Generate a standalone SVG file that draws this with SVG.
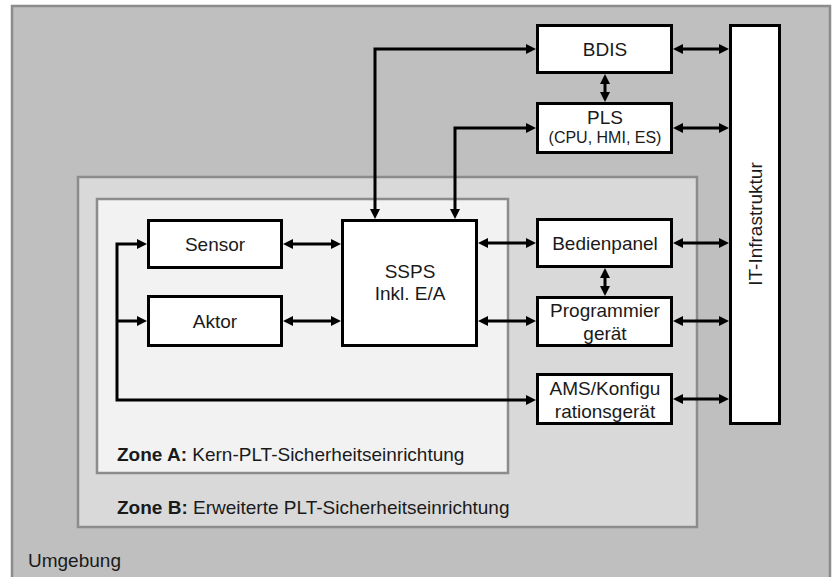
<svg xmlns="http://www.w3.org/2000/svg" width="835" height="577" viewBox="0 0 835 577">
<style>
text{font-family:"Liberation Sans",Arial,sans-serif;font-size:19px;fill:#1a1a1a}
.c{text-anchor:middle}
.s{font-size:16px}
.b{font-weight:bold}
.box{fill:#fff;stroke:#000;stroke-width:3}
.zone{stroke:#8c8c8c;stroke-width:2.5}
.con{fill:none;stroke:#000;stroke-width:3}
</style>
<defs>
<marker id="ah" viewBox="0 0 10 10" markerWidth="10" markerHeight="10" refX="3" refY="5" orient="auto-start-reverse" markerUnits="userSpaceOnUse">
<path d="M0,0 L10,5 L0,10 z" fill="#000"/>
</marker>
</defs>
<rect width="835" height="577" fill="#fff"/>
<g id="umgebung">
<rect class="zone" x="12" y="6" width="818" height="580" fill="#bfbfbf"/>
<text x="28" y="567">Umgebung</text>
</g>
<g id="zoneB">
<rect class="zone" x="78" y="177" width="619" height="350" fill="#d9d9d9"/>
<text x="117" y="514"><tspan class="b">Zone B:</tspan> Erweiterte PLT-Sicherheitseinrichtung</text>
</g>
<g id="zoneA">
<rect class="zone" x="97" y="199" width="411" height="274" fill="#f2f2f2"/>
<text x="117" y="461"><tspan class="b">Zone A:</tspan> Kern-PLT-Sicherheitseinrichtung</text>
</g>
<g id="connectors">
<path class="con" d="M375,212 V49 H529" marker-start="url(#ah)" marker-end="url(#ah)"/>
<path class="con" d="M455,212 V128 H529" marker-start="url(#ah)" marker-end="url(#ah)"/>
<path class="con" d="M605,81 V95" marker-start="url(#ah)" marker-end="url(#ah)"/>
<path class="con" d="M680,49 H722" marker-start="url(#ah)" marker-end="url(#ah)"/>
<path class="con" d="M680,128 H722" marker-start="url(#ah)" marker-end="url(#ah)"/>
<path class="con" d="M680,243 H722" marker-start="url(#ah)" marker-end="url(#ah)"/>
<path class="con" d="M680,321 H722" marker-start="url(#ah)" marker-end="url(#ah)"/>
<path class="con" d="M680,399 H722" marker-start="url(#ah)" marker-end="url(#ah)"/>
<path class="con" d="M605,275 V289" marker-start="url(#ah)" marker-end="url(#ah)"/>
<path class="con" d="M485,243 H529" marker-start="url(#ah)" marker-end="url(#ah)"/>
<path class="con" d="M485,321 H529" marker-start="url(#ah)" marker-end="url(#ah)"/>
<path class="con" d="M290,244 H334" marker-start="url(#ah)" marker-end="url(#ah)"/>
<path class="con" d="M290,321 H334" marker-start="url(#ah)" marker-end="url(#ah)"/>
<path class="con" d="M140,244 H117 V400 H529" marker-start="url(#ah)" marker-end="url(#ah)"/>
<path class="con" d="M117,321 H140" marker-end="url(#ah)"/>
</g>
<g id="sensor">
<rect class="box" x="148.5" y="220.5" width="133" height="47"/>
<text class="c" x="215" y="251">Sensor</text>
</g>
<g id="aktor">
<rect class="box" x="148.5" y="296.5" width="133" height="49"/>
<text class="c" x="215" y="328">Aktor</text>
</g>
<g id="ssps">
<rect class="box" x="342.5" y="220.5" width="134" height="125"/>
<text class="c" x="410" y="278">SSPS</text>
<text class="c" x="410" y="300">Inkl. E/A</text>
</g>
<g id="bdis">
<rect class="box" x="537.5" y="25.5" width="134" height="47"/>
<text class="c" x="605" y="56">BDIS</text>
</g>
<g id="pls">
<rect class="box" x="537.5" y="103.5" width="134" height="49"/>
<text class="c" x="605" y="124">PLS</text>
<text class="c s" x="605" y="143">(CPU, HMI, ES)</text>
</g>
<g id="bedienpanel">
<rect class="box" x="537.5" y="219.5" width="134" height="47"/>
<text class="c" x="605" y="250">Bedienpanel</text>
</g>
<g id="programmiergeraet">
<rect class="box" x="537.5" y="297.5" width="134" height="48"/>
<text class="c" x="605" y="317">Programmier</text>
<text class="c" x="605" y="340">gerät</text>
</g>
<g id="ams">
<rect class="box" x="537.5" y="374.5" width="134" height="49"/>
<text class="c" x="605" y="395">AMS/Konfigu</text>
<text class="c" x="605" y="418">rationsgerät</text>
</g>
<g id="it">
<rect class="box" x="730.5" y="25.5" width="49" height="398"/>
<text class="c" transform="translate(762,224) rotate(-90)">IT-Infrastruktur</text>
</g>
</svg>
